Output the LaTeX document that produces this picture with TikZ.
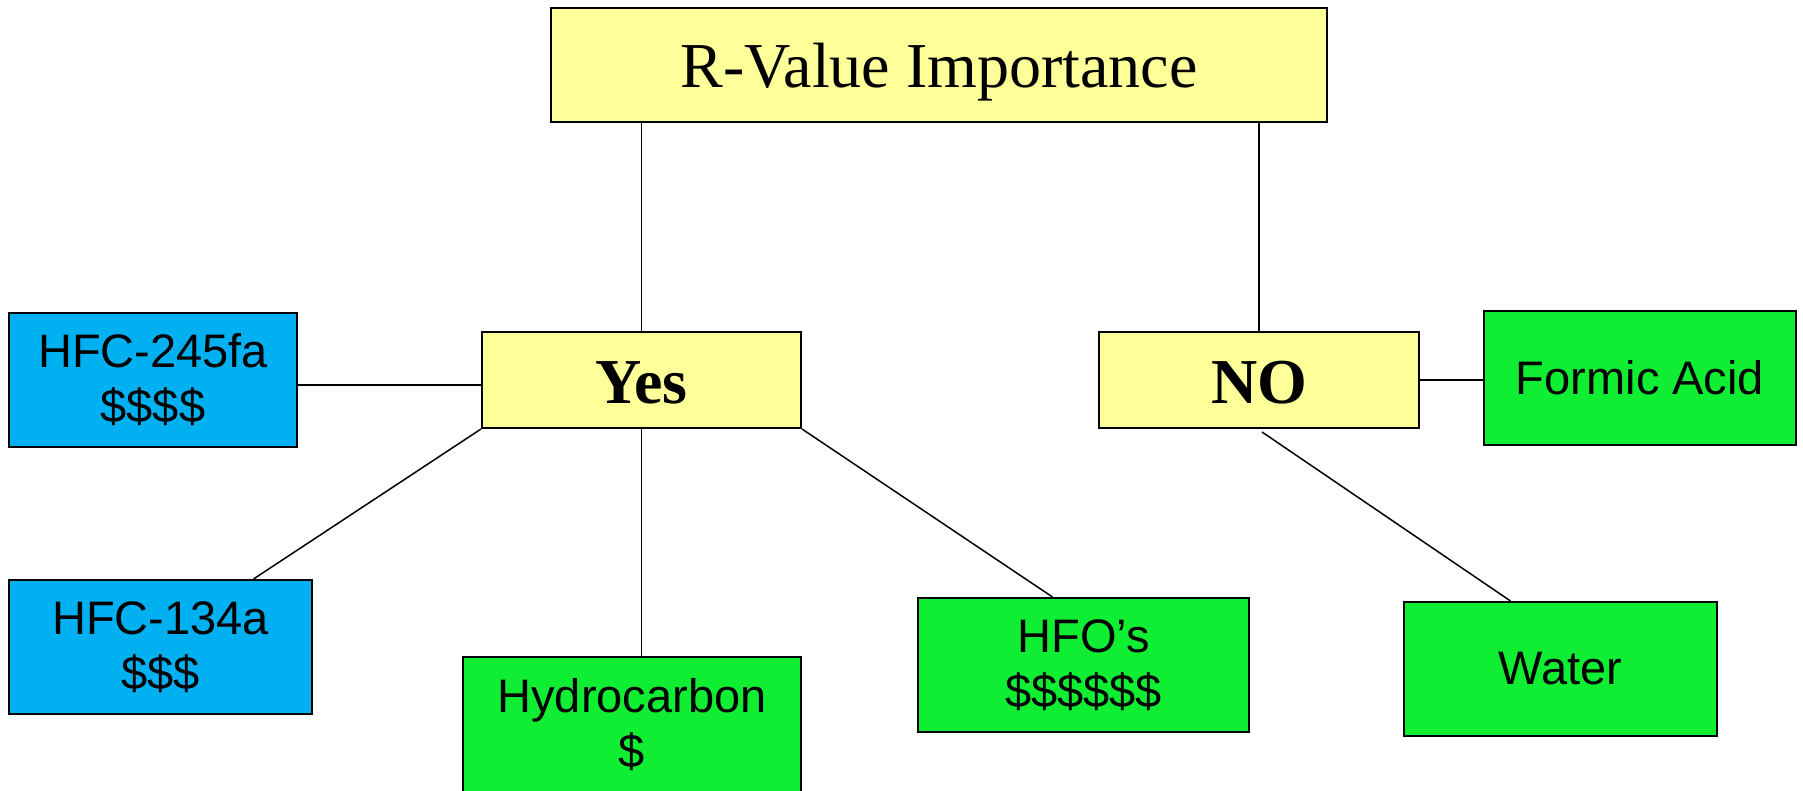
\documentclass[tikz,border=0pt]{standalone}
\usepackage{fontspec}
\setmainfont{Liberation Serif}
\newfontfamily\arialfont{Liberation Sans}
\definecolor{boxyellow}{HTML}{FFFF99}
\definecolor{boxblue}{HTML}{00B0F0}
\definecolor{boxgreen}{HTML}{10EE33}
\begin{document}
\begin{tikzpicture}[x=1pt, y=-1pt,
    box/.style = {draw, line width=2pt, align=center, inner sep=0pt},
    head/.style = {box, fill=boxyellow, font=\fontsize{64}{70}\selectfont},
    answer/.style = {box, fill=boxyellow, font=\fontsize{64}{70}\selectfont\bfseries},
    fluid/.style = {box, font=\arialfont\fontsize{47}{55}\selectfont},
    link/.style = {line width=1.5pt}]
        \clip (0,0) rectangle (1803,790);
        \fill[white] (0,0) rectangle (1803,790);

        \node[head, minimum width=776pt, minimum height=114pt] (top) at (939, 65) {\raisebox{-7pt}[\height][\depth]{R-Value Importance}};
        \node[answer, minimum width=319pt, minimum height=96pt] (yes) at (641.5, 380) {\raisebox{-3pt}[\height][\depth]{Yes}};
        \node[answer, minimum width=320pt, minimum height=96pt] (no) at (1259, 380) {\raisebox{-3pt}[\height][\depth]{NO}};

        \node[fluid, fill=boxblue, minimum width=288pt, minimum height=134pt] (hfc245) at (153, 380) {HFC-245fa\\\$\$\$\$};
        \node[fluid, fill=boxblue, minimum width=303pt, minimum height=134pt] (hfc134) at (160.5, 647) {HFC-134a\\\$\$\$};
        \node[fluid, fill=boxgreen, minimum width=338pt, minimum height=136pt] (hydro) at (632, 725) {Hydrocarbon\\\$};
        \node[fluid, fill=boxgreen, minimum width=331pt, minimum height=134pt] (hfo) at (1083.5, 665) {HFO’s\\\$\$\$\$\$\$};
        \node[fluid, fill=boxgreen, minimum width=312pt, minimum height=134pt] (formic) at (1640, 378) {Formic Acid};
        \node[fluid, fill=boxgreen, minimum width=313pt, minimum height=134pt] (water) at (1560.5, 669) {Water};

        \draw[link] (yes.north |- top.south) -- (yes.north);
        \draw[link] (no.north |- top.south) -- (no.north);

        \draw[link] ([yshift=-5pt]hfc245.east) -- ([yshift=-5pt]yes.west);
        \draw[link] (yes.south west) -- ([xshift=93pt]hfc134.north);
        \draw[link] (yes.south) -- (yes.south |- hydro.north);
        \draw[link] (yes.south east) -- ([xshift=-31pt]hfo.north);

        \draw[link] (no.east) -- (formic.west |- no.east);
        \draw[link] ([shift={(3pt,-3pt)}]no.south) -- ([xshift=-50pt]water.north);
    \end{tikzpicture}
\end{document}
